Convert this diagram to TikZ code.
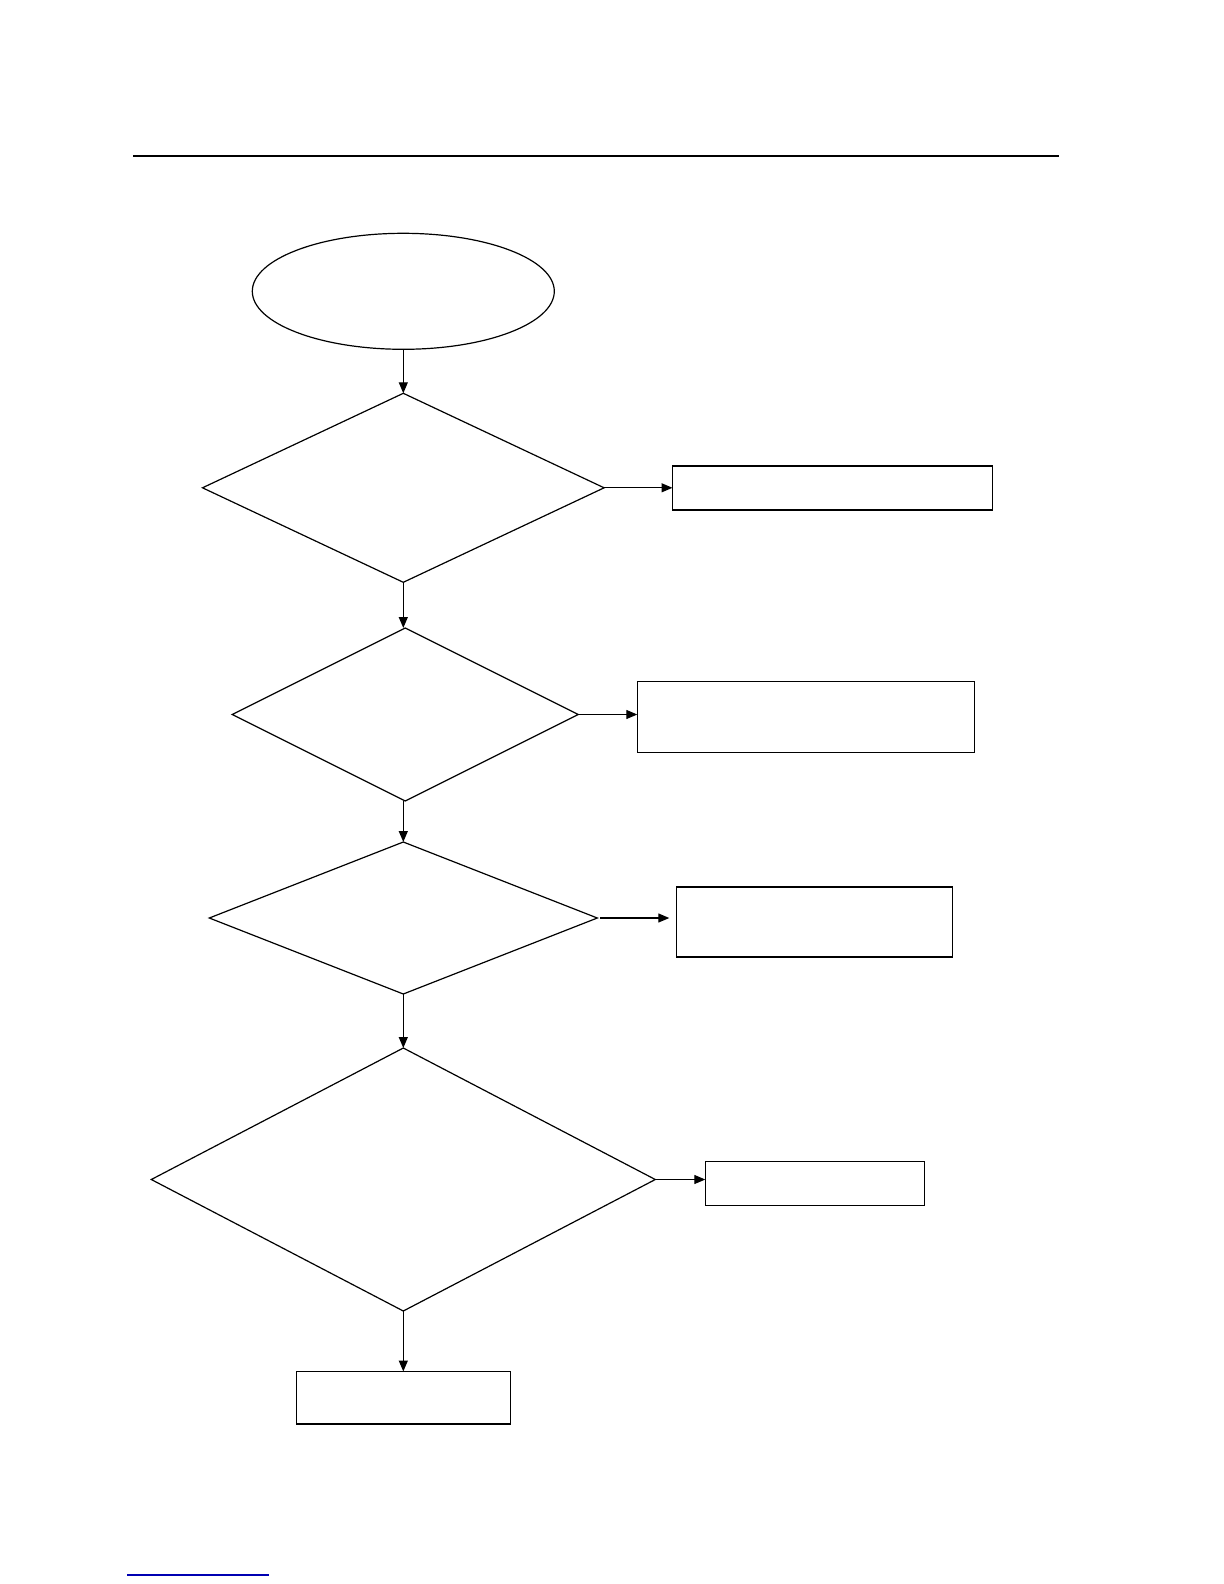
\documentclass[tikz,border=0pt]{standalone}
\usepackage{xcolor}
\usepackage{tikz}
\usetikzlibrary{positioning,shapes.geometric,arrows.meta}

\begin{document}
\begin{tikzpicture}[x=0.5pt, y=-0.5pt,
    startoval/.style={draw, ellipse, line width=0.6pt, inner sep=0pt, outer sep=0pt},
    decision/.style={draw, diamond, line width=0.6pt, inner sep=0pt, outer sep=0pt},
    outbox/.style={draw, rectangle, line width=0.8pt, inner sep=0pt, outer sep=0pt},
    flow/.style={-{Triangle[length=5.5pt, width=4.5pt]}, line width=0.6pt}]
    \useasboundingbox (0,0) rectangle (1224,1584);
    \node[fill=white, inner sep=0pt] (page) at (612,792) {};
    \draw[line width=0.9pt] (133,156) -- (1059,156);

    \node[startoval, minimum width=151pt, minimum height=58pt] (start) at (403.3,291.3) {};
    \node[decision, minimum width=200.8pt, minimum height=94.5pt, below=22pt of start] (d1) {};
    \node[decision, minimum width=173pt, minimum height=86.5pt, below=22.85pt of d1, xshift=1pt] (d2) {};
    \node[decision, minimum width=194pt, minimum height=76pt, below=20.5pt of d2, xshift=-1pt] (d3) {};
    \node[decision, minimum width=252pt, minimum height=131.5pt, below=27pt of d3] (d4) {};
    \node[outbox, minimum width=107pt, minimum height=26.25pt, below=30.25pt of d4] (end) {};

    \node[outbox, minimum width=160pt, minimum height=22pt, right=34.2pt of d1] (r1) {};
    \node[outbox, minimum width=168.5pt, minimum height=35.5pt, right=29.5pt of d2, yshift=-1.3pt] (r2) {};
    \node[outbox, minimum width=138pt, minimum height=35pt, right=39.5pt of d3, yshift=-2pt] (r3) {};
    \node[outbox, minimum width=109.5pt, minimum height=22pt, right=25pt of d4, yshift=-2pt] (r4) {};

    \draw[flow] (start) -- (d1);
    \draw[flow] (d1.south) -- (d1.south |- d2.north);
    \draw[flow] (d3.north |- d2.south) -- (d3.north);
    \draw[flow] (d3) -- (d4);
    \draw[flow] (d4) -- (end);

    \draw[flow] (d1.east) -- (r1.west);
    \draw[flow] (d2.east) -- (r2.west |- d2.east);
    \draw[flow, shorten <=1.5pt, shorten >=3.5pt] (d3.east) -- (r3.west |- d3.east);
    \draw[flow] (d4.east) -- (r4.west |- d4.east);

    \draw[blue!70!black, line width=0.6pt] (127,1575) -- (269,1575);
\end{tikzpicture}
\end{document}
